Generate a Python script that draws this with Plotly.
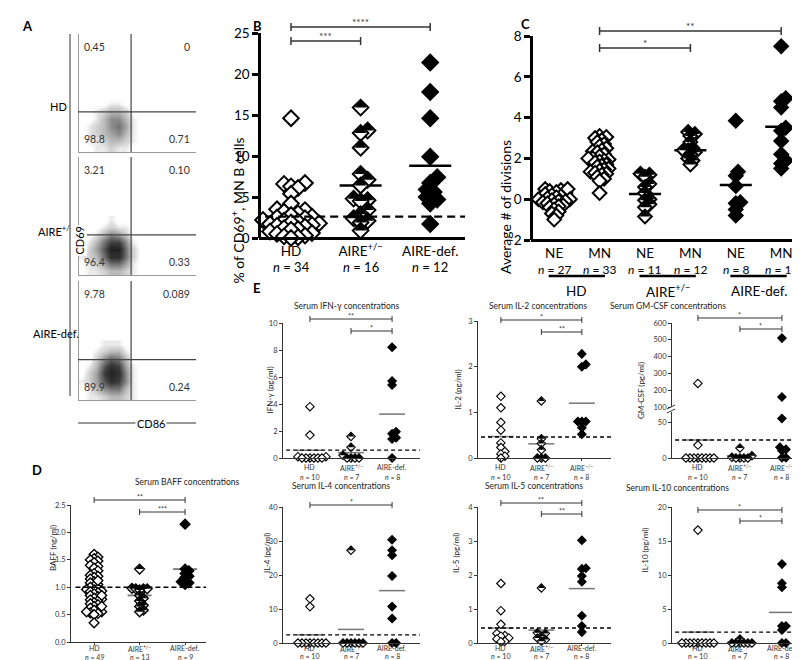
import plotly.graph_objects as go

W, H = 800, 660
FONT = "Lato"

# ======================= DATA =======================
# --- Panel A: flow cytometry (CD86 x CD69), quadrant percentages
flow_rows = ["HD", "AIRE<sup>+/−</sup>", "AIRE-def."]
flow_ul = ["0.45", "3.21", "9.78"]
flow_ur = ["0", "0.10", "0.089"]
flow_ll = ["98.8", "96.4", "89.9"]
flow_lr = ["0.71", "0.33", "0.24"]
flow_gate_cd86 = 0.45
flow_gate_cd69 = 0.34
# coarse event density (rows bottom->top, cols left->right)
flow_density_hd = [
    [0, 0, 1, 1, 2, 1, 1, 0, 0, 0, 0, 0, 0, 0, 0, 0],
    [0, 1, 1, 2, 3, 3, 2, 1, 0, 0, 0, 0, 0, 0, 0, 0],
    [0, 1, 2, 3, 4, 5, 3, 1, 0, 0, 0, 0, 0, 0, 0, 0],
    [0, 1, 2, 3, 5, 6, 4, 1, 0, 0, 0, 0, 0, 0, 0, 0],
    [0, 0, 1, 3, 5, 5, 3, 1, 0, 0, 0, 0, 0, 0, 0, 0],
    [0, 0, 1, 2, 3, 3, 2, 0, 0, 0, 0, 0, 0, 0, 0, 0],
    [0, 0, 0, 0, 1, 1, 0, 0, 0, 0, 0, 0, 0, 0, 0, 0],
    [0, 0, 0, 0, 0, 0, 0, 0, 0, 0, 0, 0, 0, 0, 0, 0],
]
flow_density_het = [
    [0, 1, 1, 2, 3, 3, 2, 1, 0, 0, 0, 0, 0, 0, 0, 0],
    [0, 1, 2, 4, 6, 6, 4, 1, 0, 0, 0, 0, 0, 0, 0, 0],
    [1, 2, 3, 6, 9, 9, 6, 2, 0, 0, 0, 0, 0, 0, 0, 0],
    [0, 2, 4, 7, 10, 10, 6, 2, 0, 0, 0, 0, 0, 0, 0, 0],
    [0, 1, 3, 6, 8, 8, 5, 1, 0, 0, 0, 0, 0, 0, 0, 0],
    [0, 0, 1, 3, 5, 4, 2, 0, 0, 0, 0, 0, 0, 0, 0, 0],
    [0, 0, 0, 1, 2, 1, 1, 0, 0, 0, 0, 0, 0, 0, 0, 0],
    [0, 0, 0, 0, 1, 0, 0, 0, 0, 0, 0, 0, 0, 0, 0, 0],
]
flow_density_def = [
    [0, 1, 1, 2, 3, 3, 2, 1, 0, 0, 0, 0, 0, 0, 0, 0],
    [0, 1, 3, 5, 6, 6, 3, 1, 0, 0, 0, 0, 0, 0, 0, 0],
    [1, 2, 4, 7, 9, 8, 5, 1, 0, 0, 0, 0, 0, 0, 0, 0],
    [0, 2, 4, 8, 10, 9, 5, 1, 0, 0, 0, 0, 0, 0, 0, 0],
    [0, 1, 3, 7, 9, 8, 4, 1, 0, 0, 0, 0, 0, 0, 0, 0],
    [0, 0, 2, 5, 7, 6, 3, 0, 0, 0, 0, 0, 0, 0, 0, 0],
    [0, 0, 1, 2, 3, 3, 1, 0, 0, 0, 0, 0, 0, 0, 0, 0],
    [0, 0, 0, 1, 1, 1, 0, 0, 0, 0, 0, 0, 0, 0, 0, 0],
]

# --- Panel B: % CD69+ MN B cells
b_groups = ["HD", "AIRE<sup>+/−</sup>", "AIRE-def."]
b_n = [34, 16, 12]
b_hd = [14.6, 6.7, 6.6, 6.3, 6.1, 5.4, 4.2, 3.5, 3.4, 3.2, 3.0, 2.8, 2.6, 2.5, 2.4, 2.2, 2.1,
        2.0, 1.9, 1.8, 1.7, 1.6, 1.5, 1.4, 1.2, 1.1, 1.0, 0.8, 0.6, 0.5, 0.3, 0.2, 0.1, 0]
b_het = [15.9, 13.1, 12.8, 11.0, 7.8, 7.1, 6.4, 4.8, 4.6, 4.5, 3.4, 2.9, 2.4, 2.1, 1.9, 0.9]
b_def = [21.4, 17.8, 14.6, 9.9, 7.4, 6.7, 5.9, 5.6, 5.0, 4.7, 4.2, 1.7]
b_means = [2.6, 6.4, 8.8]
b_cutoff = 2.6
b_sig = [(0, 2, "****"), (0, 1, "***")]

# --- Panel C: average number of divisions
c_cats = ["NE", "MN", "NE", "MN", "NE", "MN"]
c_n = [27, 33, 11, 12, 8, 11]
c_groups = ["HD", "AIRE<sup>+/−</sup>", "AIRE-def."]
c_hd_ne = [0.5, 0.45, 0.4, 0.35, 0.3, 0.25, 0.2, 0.15, 0.1, 0.05, 0.5, 0, 0, -0.05, -0.1, -0.1,
           -0.15, -0.2, -0.25, -0.3, -0.35, -0.4, -0.5, -0.6, -0.7, -0.8, -1.0]
c_hd_mn = [3.1, 3.05, 3.0, 2.9, 2.8, 2.7, 2.6, 2.5, 2.4, 2.35, 2.3, 2.2, 2.1, 2.0, 2.0, 1.95,
           1.9, 1.85, 1.8, 1.7, 1.65, 1.6, 1.5, 1.45, 1.4, 1.35, 1.3, 1.25, 1.2, 1.1, 1.0, 0.9, 0.3]
c_het_ne = [1.2, 1.25, 1.1, 0.75, 0.6, 0.3, 0.0, -0.05, -0.25, -0.4, -0.85]
c_het_mn = [3.3, 3.2, 3.1, 2.8, 2.5, 2.4, 2.4, 2.3, 2.2, 2.0, 1.9, 1.7]
c_def_ne = [3.85, 1.35, 1.15, 0.65, -0.15, -0.2, -0.5, -0.8]
c_def_mn = [7.5, 4.95, 4.8, 4.5, 3.5, 3.35, 2.85, 2.2, 1.9, 1.75, 1.5]
c_means = [-0.1, 1.95, 0.25, 2.4, 0.7, 3.55]
c_sig = [(1, 5, "**"), (1, 3, "*")]

# --- Panel D: serum BAFF
d_groups = ["HD", "AIRE<sup>+/−</sup>", "AIRE-def."]
d_n = [49, 13, 9]
d_hd = [1.6, 1.55, 1.52, 1.5, 1.48, 1.45, 1.4, 1.38, 1.35, 1.3, 1.25, 1.22, 1.2, 1.18, 1.15,
        1.1, 1.08, 1.05, 1.02, 1.0, 0.98, 0.96, 0.95, 0.93, 0.92, 0.9, 0.88, 0.85, 0.83, 0.8,
        0.78, 0.77, 0.75, 0.72, 0.7, 0.68, 0.65, 0.62, 0.6, 0.58, 0.55, 0.53, 0.52, 0.5, 0.55,
        0.65, 0.85, 1.12, 0.35]
d_het = [1.33, 0.98, 0.97, 0.97, 0.97, 0.95, 0.85, 0.8, 0.75, 0.67, 0.65, 0.58, 0.55]
d_def = [2.15, 1.33, 1.3, 1.25, 1.2, 1.18, 1.1, 1.05, 1.08]
d_means = [1.0, 0.85, 1.33]
d_cutoff = 1.0
d_sig = [(0, 2, "**"), (1, 2, "***")]

# --- Panel E: serum cytokines (HD, AIRE+/-, AIRE-def.)
e_n = [10, 7, 8]
ifn_hd = [3.8, 1.7, 0.1, 0.1, 0, 0, 0, 0, 0, 0]
ifn_het = [1.6, 0.8, 0.2, 0, 0, 0, 0]
ifn_def = [8.2, 5.7, 5.4, 1.95, 1.8, 1.5, 1.4, 0]
ifn_means = [0.57, 0.4, 3.25]
ifn_cutoff = 0.58
ifn_sig = [(0, 2, "**"), (1, 2, "*")]

il2_hd = [1.35, 1.1, 0.78, 0.61, 0.33, 0.23, 0.14, 0.09, 0.04, 0.0]
il2_het = [1.25, 0.42, 0.32, 0.18, 0, 0, 0]
il2_def = [2.28, 2.05, 2.0, 0.8, 0.8, 0.8, 0.66, 0.52]
il2_means = [0.47, 0.31, 1.2]
il2_cutoff = 0.46
il2_sig = [(0, 2, "*"), (1, 2, "**")]

gm_hd = [240, 18, 0, 0, 0, 0, 0, 0, 0, 0]
gm_het = [14, 3, 1, 0, 0, 0, 0]
gm_def = [510, 160, 55, 15, 12, 10, 0.5, 0.5]
gm_means = [25, 3, 95]
gm_cutoff = 25
gm_sig = [(0, 2, "*"), (1, 2, "*")]

il4_hd = [13.0, 10.7, 0, 0, 0, 0, 0, 0, 0, 0]
il4_het = [27.3, 0, 0, 0, 0, 0, 0]
il4_def = [30.4, 27.3, 25.8, 19.7, 10.7, 7.2, 0, 0]
il4_means = [2.4, 4.0, 15.4]
il4_cutoff = 2.4
il4_sig = [(0, 2, "*")]

il5_hd = [1.75, 0.95, 0.55, 0.28, 0.22, 0.2, 0.15, 0.12, 0.05, 0.04]
il5_het = [1.62, 0.3, 0.28, 0.2, 0.15, 0.1, 0.05]
il5_def = [3.02, 2.2, 2.18, 1.97, 1.8, 0.8, 0.5, 0.32]
il5_means = [0.44, 0.38, 1.6]
il5_cutoff = 0.44
il5_sig = [(0, 2, "**"), (1, 2, "**")]

il10_hd = [16.6, 0, 0, 0, 0, 0, 0, 0, 0, 0]
il10_het = [0.6, 0, 0, 0, 0, 0, 0]
il10_def = [11.6, 8.8, 8.2, 2.5, 2.5, 1.9, 0, 0]
il10_means = [1.6, 0.1, 4.5]
il10_cutoff = 1.6
il10_sig = [(0, 2, "*"), (1, 2, "*")]

# ======================= HELPERS =======================
traces, shapes, ann = [], [], []
axes_layout, geom = {}, {}


def refs(n):
    return ("x" if n == 1 else f"x{n}"), ("y" if n == 1 else f"y{n}")


def make_axes(n, xpx, ypx, xr, yr, xo=None, yo=None):
    xk = "xaxis" if n == 1 else f"xaxis{n}"
    yk = "yaxis" if n == 1 else f"yaxis{n}"
    geom[n] = dict(ppx=(xpx[1] - xpx[0]) / (xr[1] - xr[0]),
                   ppy=(ypx[1] - ypx[0]) / (yr[1] - yr[0]))
    xdom = [xpx[0] / W, xpx[1] / W]
    ydom = [1 - ypx[1] / H, 1 - ypx[0] / H]
    xa = dict(domain=xdom, range=xr, anchor="free", position=ydom[0], showgrid=False,
              zeroline=False, fixedrange=True, automargin=False)
    ya = dict(domain=ydom, range=yr, anchor="free", position=xdom[0], showgrid=False,
              zeroline=False, fixedrange=True, automargin=False)
    xa.update(xo or {})
    ya.update(yo or {})
    axes_layout[xk] = xa
    axes_layout[yk] = ya


def text(x, y, s, size, color="black", **kw):
    ann.append(dict(x=x / W, y=1 - y / H, xref="paper", yref="paper", text=s, showarrow=False,
                    font=dict(size=size, family=FONT, color=color), **kw))


def swarm(values, center, d, ppx, ppy):
    order = sorted(range(len(values)), key=lambda i: values[i])
    cands = [0.0]
    for j in range(1, 80):
        cands += [j * d / 2, -j * d / 2]
    placed, xs = [], [0.0] * len(values)
    for i in order:
        yv = values[i] * ppy
        off = 0.0
        for off in cands:
            if all((off - ox) ** 2 + (yv - oy) ** 2 >= d * d * 0.999 for ox, oy in placed):
                break
        placed.append((off, yv))
        xs[i] = center + off / ppx
    return xs


def dots(n, center, values, kind, size, lw, d):
    xr_, yr_ = refs(n)
    g = geom[n]
    xs = swarm(values, center, d, g["ppx"], g["ppy"])
    if kind == "filled":
        mk = dict(symbol="diamond", color="black", size=size, line=dict(color="black", width=lw))
    else:
        mk = dict(symbol="diamond", color="white", size=size, line=dict(color="black", width=lw))
    traces.append(go.Scatter(x=xs, y=values, mode="markers", marker=mk, xaxis=xr_, yaxis=yr_,
                             cliponaxis=False, hoverinfo="skip", showlegend=False))
    if kind == "half":
        st = 0.867 * size
        dy = (st / 4.0) / g["ppy"]
        traces.append(go.Scatter(x=xs, y=[v + dy for v in values], mode="markers",
                                 marker=dict(symbol="triangle-up", color="black", size=st,
                                             line=dict(width=0)),
                                 xaxis=xr_, yaxis=yr_, cliponaxis=False, hoverinfo="skip",
                                 showlegend=False))


def mean_line(n, center, m, hw_px, color, width):
    xr_, yr_ = refs(n)
    hw = hw_px / geom[n]["ppx"]
    traces.append(go.Scatter(x=[center - hw, center + hw], y=[m, m], mode="lines",
                             line=dict(color=color, width=width), xaxis=xr_, yaxis=yr_,
                             cliponaxis=False, hoverinfo="skip", showlegend=False))


def cutoff(n, v, x0, dash, width):
    xr_, yr_ = refs(n)
    shapes.append(dict(type="line", xref=f"{xr_} domain", yref=yr_, x0=x0, x1=1, y0=v, y1=v,
                       line=dict(color="black", width=width, dash=dash), layer="above"))


def bracket(n, a, b, ypx, label, tick=3.5, size=9, lw=1.2, color="#333"):
    xr_, _ = refs(n)
    y = 1 - ypx / H
    t = tick / H
    for (x0, x1, y0, y1) in [(a, b, y, y), (a, a, y - t, y + t), (b, b, y - t, y + t)]:
        shapes.append(dict(type="line", xref=xr_, yref="paper", x0=x0, x1=x1, y0=y0, y1=y1,
                           line=dict(color=color, width=lw)))
    ann.append(dict(xref=xr_, yref="paper", x=(a + b) / 2, y=y, yanchor="bottom", yshift=-3,
                    text=label, showarrow=False, font=dict(size=size, color=color, family=FONT)))


def cat_labels(n, groups, ns, y1, y2, size, color="#333"):
    xr_, _ = refs(n)
    for i, (g, nn) in enumerate(zip(groups, ns)):
        ann.append(dict(xref=xr_, yref="paper", x=i, y=1 - y1 / H, text=g, showarrow=False,
                        yanchor="middle", borderpad=0,
                        font=dict(size=size, family=FONT, color=color)))
        ann.append(dict(xref=xr_, yref="paper", x=i, y=1 - y2 / H, text=f"<i>n</i> = {nn}",
                        showarrow=False, yanchor="middle", borderpad=0,
                        font=dict(size=size, family=FONT, color=color)))


# ======================= PANEL A =======================
gx = [(i + 0.5) / 16 for i in range(16)]
gy = [(i + 0.5) / 16 for i in range(8)]
flow_boxes = [(26, 144), (149, 267), (273, 392)]
flow_dens = [flow_density_hd, flow_density_het, flow_density_def]
for k in range(3):
    n = k + 1
    make_axes(n, (70, 188), flow_boxes[k], [0, 1], [0, 1],
              dict(showline=True, mirror=True, linecolor="#9a9a9a", linewidth=1, ticks="",
                   showticklabels=False),
              dict(showline=True, mirror=True, linecolor="#9a9a9a", linewidth=1, ticks="",
                   showticklabels=False))
    xr_, yr_ = refs(n)
    traces.append(go.Heatmap(z=flow_dens[k], x=gx, y=gy, zmin=0, zmax=11, zsmooth="best",
                             showscale=False, hoverinfo="skip", xaxis=xr_, yaxis=yr_,
                             colorscale=[[0, "rgba(255,255,255,0)"], [0.1, "#e6e6e6"],
                                         [0.4, "#9a9a9a"], [0.75, "#3a3a3a"], [1, "#151515"]]))
    shapes.append(dict(type="line", xref=xr_, yref=yr_, x0=flow_gate_cd86, x1=flow_gate_cd86,
                       y0=0, y1=1, line=dict(color="#444", width=1.2)))
    shapes.append(dict(type="line", xref=xr_, yref=yr_, x0=0, x1=1, y0=flow_gate_cd69,
                       y1=flow_gate_cd69, line=dict(color="#444", width=1.2)))
    qf = dict(size=10.5, family=FONT, color="#333")
    for (x, y, s, xa_) in [(0.03, 0.89, flow_ul[k], "left"), (0.97, 0.89, flow_ur[k], "right"),
                           (0.03, 0.11, flow_ll[k], "left"), (0.97, 0.11, flow_lr[k], "right")]:
        ann.append(dict(xref=f"{xr_} domain", yref=f"{yr_} domain", x=x, y=y, text=s,
                        xanchor=xa_, yanchor="middle", showarrow=False, font=qf))

text(40, 90, flow_rows[0], 11)
text(28, 213, flow_rows[1], 11)
text(23, 325, flow_rows[2], 11)
shapes.append(dict(type="line", xref="paper", yref="paper", x0=62 / W, x1=62 / W,
                   y0=1 - 26 / H, y1=1 - 388 / H, line=dict(color="#333", width=1)))
text(62, 217, "CD69", 11, textangle=-90, bgcolor="white")
shapes.append(dict(type="line", xref="paper", yref="paper", x0=70 / W, x1=188 / W,
                   y0=1 - 415 / H, y1=1 - 415 / H, line=dict(color="#333", width=1)))
text(127, 415, "CD86", 11, bgcolor="white")

# ======================= PANEL B =======================
big_x = dict(showline=True, linecolor="black", linewidth=2.5, ticks="", tickmode="array",
             tickfont=dict(size=13.5, family=FONT, color="black"))
big_y = dict(showline=True, linecolor="black", linewidth=2.5, ticks="outside", ticklen=6,
             tickwidth=2.5, tickcolor="black", tickmode="array",
             tickfont=dict(size=13.5, family=FONT, color="black"))
make_axes(4, (251, 457), (25, 230), [-0.46, 2.5], [0, 25],
          dict(big_x, tickvals=[0, 1, 2], ticktext=b_groups),
          dict(big_y, tickvals=[0, 5, 10, 15, 20, 25]))
cutoff(4, b_cutoff, 0.03, "8px,5px", 2.2)
for i, (vals, kind) in enumerate([(b_hd, "open"), (b_het, "half"), (b_def, "filled")]):
    mean_line(4, i, b_means[i], 21, "black", 2.5)
    dots(4, i, vals, kind, 12, 2, 7)
for i, nn in enumerate(b_n):
    ann.append(dict(xref="x4", yref="paper", x=i, y=1 - 259 / H, text=f"<i>n</i> = {nn}",
                    showarrow=False, borderpad=0, font=dict(size=13, family=FONT)))
bracket(4, 0, 2, 19, b_sig[0][2], tick=4, size=10, lw=1.5)
bracket(4, 0, 1, 33, b_sig[1][2], tick=4, size=10, lw=1.5)
text(218, 128, "% of CD69<sup>+</sup>, MN B cells", 14, textangle=-90)

# ======================= PANEL C =======================
make_axes(5, (523, 795), (28, 232), [-0.51, 5.48], [-2, 8],
          dict(big_x, tickvals=list(range(6)), ticktext=c_cats),
          dict(big_y, tickvals=[-2, 0, 2, 4, 6, 8]))
c_sets = [(c_hd_ne, "open"), (c_hd_mn, "open"), (c_het_ne, "half"), (c_het_mn, "half"),
          (c_def_ne, "filled"), (c_def_mn, "filled")]
for i, (vals, kind) in enumerate(c_sets):
    mean_line(5, i, c_means[i], 16, "black", 2.5)
    dots(5, i, vals, kind, 10.5, 2, 4.5)
for i, nn in enumerate(c_n):
    ann.append(dict(xref="x5", yref="paper", x=i, y=1 - 261 / H, text=f"<i>n</i> = {nn}",
                    showarrow=False, borderpad=0, font=dict(size=12, family=FONT)))
for g in range(3):
    a, b = 2 * g, 2 * g + 1
    shapes.append(dict(type="line", xref="x5", yref="paper", x0=a - 0.12, x1=b + 0.12,
                       y0=1 - 268 / H, y1=1 - 268 / H, line=dict(color="black", width=2.5)))
    ann.append(dict(xref="x5", yref="paper", x=(a + b) / 2, y=1 - 283 / H, text=c_groups[g],
                    showarrow=False, borderpad=0, font=dict(size=13.5, family=FONT)))
bracket(5, 1, 5, 23, c_sig[0][2], tick=4, size=10, lw=1.5)
bracket(5, 1, 3, 40, c_sig[1][2], tick=4, size=10, lw=1.5)
text(497, 130, "Average # of divisions", 14, textangle=-90)

# ======================= PANEL D =======================
sm_x = dict(showline=True, linecolor="#333", linewidth=1, ticks="outside", ticklen=2,
            tickwidth=1, tickcolor="#333", tickmode="array", showticklabels=False)
sm_y = dict(showline=True, linecolor="#333", linewidth=1, ticks="outside", ticklen=3,
            tickwidth=1, tickcolor="#333", tickmode="array",
            tickfont=dict(size=7.5, family=FONT, color="#333"))

make_axes(6, (62, 198), (497, 634), [-0.53, 2.46], [0, 2.5],
          dict(sm_x, tickvals=[0, 1, 2]),
          dict(sm_y, tickvals=[0, 0.5, 1.0, 1.5, 2.0, 2.5], tickformat=".1f"))
cat_labels(6, d_groups, d_n, 640, 649, 7)
cutoff(6, d_cutoff, 0.04, "5px,3px", 1.5)
for i, (vals, kind) in enumerate([(d_hd, "open"), (d_het, "half"), (d_def, "filled")]):
    mean_line(6, i, d_means[i], 12, "#777", 1.8)
    dots(6, i, vals, kind, 7.5, 1.4, 3.8)
bracket(6, 0, 2, 492, d_sig[0][2], tick=3, size=7, lw=1)
bracket(6, 1, 2, 504, d_sig[1][2], tick=3, size=7, lw=1)
text(125, 481, "Serum BAFF concentrations", 8.5, color="#222")
text(38, 565, "BAFF (ng/ml)", 8, textangle=-90, color="#222")

# ======================= PANEL E =======================
het_lbl = "AIRE<sup>+/−</sup>"
ko_lbl = "AIRE<sup>−/−</sup>"
E_SIZE, E_LW, E_D = 6.5, 1.1, 4.0


def e_panel(n, xpx, ypx, xr, yr, yticks, groups, sets, means, cut, sig, sig_y, title, tpos,
            ytitle, ytx, lab_y):
    make_axes(n, xpx, ypx, xr, yr, dict(sm_x, tickvals=[0, 1, 2]),
              dict(sm_y, tickvals=yticks))
    cat_labels(n, groups, e_n, lab_y[0], lab_y[1], 7)
    cutoff(n, cut, 0.03, "4px,3px", 1.4)
    for i, (vals, kind) in enumerate(sets):
        mean_line(n, i, means[i], 13, "#777", 1.5)
        dots(n, i, vals, kind, E_SIZE, E_LW, E_D)
    for (a, b, s), yy in zip(sig, sig_y):
        bracket(n, a, b, yy, s, tick=3, size=7, lw=1)
    text(tpos[0], tpos[1], title, 8.5, color="#222")
    text(ytx, (ypx[0] + ypx[1]) / 2, ytitle, 8, textangle=-90, color="#222")


X_L, X_M, X_R = (274, 412), (469, 603), (663, 800)
XR_L, XR_M, XR_R = [-0.68, 2.68], [-0.59, 2.72], [-0.64, 2.62]
TOP_LAB = (459, 469)
BOT_LAB = (640, 648)

e_panel(7, X_L, (315, 450), XR_L, [0, 10], [0, 2, 4, 6, 8, 10],
        ["HD", het_lbl, "AIRE-def."], [(ifn_hd, "open"), (ifn_het, "half"), (ifn_def, "filled")],
        ifn_means, ifn_cutoff, ifn_sig, [311, 323], "Serum IFN-γ concentrations", (338, 298),
        "IFN-γ (pg/ml)", 254, TOP_LAB)
e_panel(8, X_M, (313, 450), XR_M, [0, 3], [0, 1, 2, 3],
        ["HD", het_lbl, ko_lbl], [(il2_hd, "open"), (il2_het, "half"), (il2_def, "filled")],
        il2_means, il2_cutoff, il2_sig, [312, 324], "Serum IL-2 concentrations", (530, 298),
        "IL-2 (pg/ml)", 449, TOP_LAB)
e_panel(11, X_L, (499, 635), XR_L, [0, 40], [0, 10, 20, 30, 40],
        ["HD", het_lbl, "AIRE-def."], [(il4_hd, "open"), (il4_het, "half"), (il4_def, "filled")],
        il4_means, il4_cutoff, il4_sig, [497], "Serum IL-4 concentrations", (333, 485),
        "IL-4 (pg/ml)", 252, BOT_LAB)
e_panel(12, X_M, (499, 635), XR_M, [0, 4], [0, 1, 2, 3, 4],
        ["HD", het_lbl, "AIRE-def."], [(il5_hd, "open"), (il5_het, "half"), (il5_def, "filled")],
        il5_means, il5_cutoff, il5_sig, [495, 506], "Serum IL-5 concentrations", (526, 485),
        "IL-5 (pg/ml)", 448, BOT_LAB)
e_panel(13, X_R, (499, 635), XR_R, [0, 20], [0, 5, 10, 15, 20],
        ["HD", het_lbl, "AIRE-def."], [(il10_hd, "open"), (il10_het, "half"), (il10_def, "filled")],
        il10_means, il10_cutoff, il10_sig, [502, 513], "Serum IL-10 concentrations", (723, 487),
        "IL-10 (pg/ml)", 643, BOT_LAB)

# GM-CSF with broken y axis (lower 0-64, upper 100-600)
GM_BREAK_LO, GM_BREAK_HI = 64, 100
make_axes(9, X_R, (404, 450), XR_R, [0, GM_BREAK_LO],
          dict(sm_x, tickvals=[0, 1, 2]),
          dict(sm_y, tickvals=[0, 50]))
cat_labels(9, ["HD", het_lbl, ko_lbl], e_n, TOP_LAB[0], TOP_LAB[1], 7)
make_axes(10, X_R, (315, 399), XR_R, [GM_BREAK_HI, 600],
          dict(showline=False, ticks="", showticklabels=False),
          dict(sm_y, tickvals=[100, 200, 300, 400, 500, 600]))
cutoff(9, gm_cutoff, 0.03, "4px,3px", 1.4)
for i, (vals, kind) in enumerate([(gm_hd, "open"), (gm_het, "half"), (gm_def, "filled")]):
    lo = [v for v in vals if v < GM_BREAK_HI]
    hi = [v for v in vals if v >= GM_BREAK_HI]
    m = gm_means[i]
    if m < GM_BREAK_LO:
        mean_line(9, i, m, 13, "#777", 1.5)
    elif m >= GM_BREAK_HI:
        mean_line(10, i, m, 13, "#777", 1.5)
    dots(9, i, lo, kind, E_SIZE, E_LW, E_D)
    if hi:
        dots(10, i, hi, kind, E_SIZE, E_LW, E_D)
for (a, b, s), yy in zip(gm_sig, [310, 321]):
    bracket(10, a, b, yy, s, tick=3, size=7, lw=1)
text(720, 298, "Serum GM-CSF concentrations", 8.5, color="#222")
text(640, 383, "GM-CSF (pg/ml)", 8, textangle=-90, color="#222")
for yy in (399, 403):
    shapes.append(dict(type="line", xref="paper", yref="paper", x0=659 / W, x1=667 / W,
                       y0=1 - (yy + 2) / H, y1=1 - (yy - 2) / H,
                       line=dict(color="#333", width=1)))

# ======================= PANEL LETTERS =======================
for lab, x, y in [("A", 12, 8), ("B", 243, 8), ("C", 517, 6), ("D", 22, 472), ("E", 243, 280)]:
    text(x, y, f"<b>{lab}</b>", 13)

fig = go.Figure(data=traces)
fig.update_layout(template="none", width=W, height=H, margin=dict(l=0, r=0, t=0, b=0),
                  paper_bgcolor="white", plot_bgcolor="rgba(0,0,0,0)",
                  font=dict(family=FONT, color="black"), showlegend=False,
                  shapes=shapes, annotations=ann, **axes_layout)
fig.write_html("out.html")
